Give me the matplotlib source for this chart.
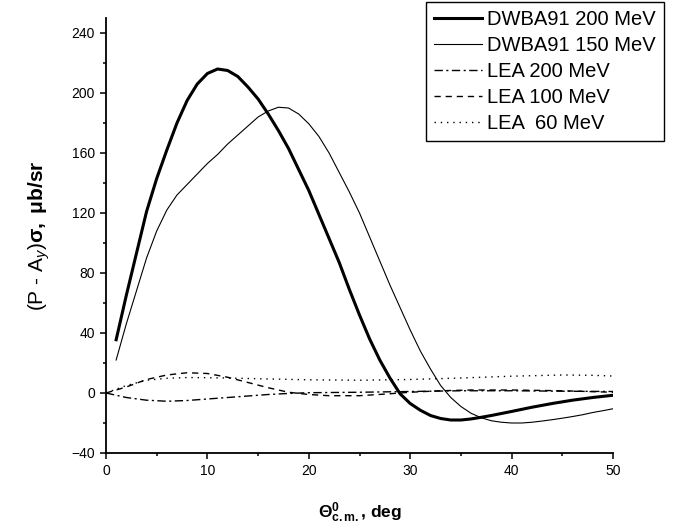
import matplotlib
matplotlib.use("Agg")
import matplotlib.pyplot as plt
from matplotlib.ticker import MultipleLocator

plt.rcParams["font.family"] = ["Liberation Sans", "DejaVu Sans"]
plt.rcParams["mathtext.fontset"] = "custom"
plt.rcParams["mathtext.rm"] = "Liberation Sans"
plt.rcParams["mathtext.it"] = "Liberation Sans:italic"
plt.rcParams["mathtext.bf"] = "Liberation Sans:bold"

# DWBA91 200 MeV (thick solid)
dw200_x = [1, 2, 3, 4, 5, 6, 7, 8, 9, 10, 11, 12, 13, 14, 15, 16, 17, 18, 19, 20,
           21, 22, 23, 24, 25, 26, 27, 28, 29, 30, 31, 32, 33, 34, 35, 36, 37, 38,
           40, 42, 44, 46, 48, 50]
dw200_y = [35.5, 65, 93, 121, 143, 162, 180, 195, 206, 213, 216, 215, 211, 204, 196,
           186, 175, 163, 149, 135, 119, 103, 87, 69, 52, 36, 22, 10, -0.5, -7,
           -11.5, -15, -17, -18, -18, -17.3, -16.2, -15, -12.3, -9.5, -7, -4.8, -3, -1.5]

# DWBA91 150 MeV (thin solid)
dw150_x = [1, 2, 3, 4, 5, 6, 7, 8, 9, 10, 11, 12, 13, 14, 15, 16, 17, 18, 19, 20,
           21, 22, 23, 24, 25, 26, 27, 28, 29, 30, 31, 32, 33, 34, 35, 36, 37, 38,
           39, 40, 41, 42, 43, 44, 45, 46, 47, 48, 49, 50]
dw150_y = [22, 46, 68, 90, 108, 122, 132, 139, 146, 153, 159, 166, 172, 178, 184,
           188, 190.5, 190, 186, 179.5, 171, 160, 147, 134, 120, 104, 88, 72, 57, 42,
           28, 16, 5, -3, -9, -13.5, -16.5, -18.5, -19.5, -20, -20, -19.5, -18.7,
           -17.8, -16.8, -15.7, -14.5, -13, -11.8, -10.5]

# LEA 200 MeV (dash-dot)
lea200_x = [0, 2, 4, 6, 8, 10, 12, 14, 16, 18, 20, 25, 30, 35, 40, 45, 50]
lea200_y = [0, -3, -4.8, -5.5, -5, -4, -3, -2, -1, -0.3, 0.2, 0.5, 1, 1.5, 1.5, 1.2, 1]

# LEA 100 MeV (dashed)
lea100_x = [0, 2, 4, 6, 8, 10, 12, 14, 16, 18, 20, 22, 25, 28, 30, 33, 36, 40, 45, 50]
lea100_y = [0, 4, 9, 12, 13.5, 13, 10.5, 7, 3.5, 0.5, -1, -1.8, -1.8, -0.5, 0.5, 1.5,
            2, 2, 1.5, 0.5]

# LEA 60 MeV (dotted)
lea60_x = [0, 2, 4, 6, 8, 10, 12, 15, 20, 25, 30, 35, 40, 45, 48, 50]
lea60_y = [0, 5, 8.5, 9.8, 10.3, 10.2, 10, 9.5, 8.8, 8.5, 9, 10, 11.2, 12, 11.8, 11.3]

fig = plt.figure(figsize=(6.78, 5.26), dpi=100)
ax = fig.add_axes([106 / 678, 1 - 453 / 526, 507 / 678, 435 / 526])

ax.plot(dw200_x, dw200_y, color="black", lw=2.2, label="DWBA91 200 MeV")
ax.plot(dw150_x, dw150_y, color="black", lw=0.8, label="DWBA91 150 MeV")
ax.plot(lea200_x, lea200_y, color="black", lw=1.0, dashes=(6, 2.5, 1.5, 2.5),
        label="LEA 200 MeV")
ax.plot(lea100_x, lea100_y, color="black", lw=1.0, dashes=(4.5, 3.5),
        label="LEA 100 MeV")
ax.plot(lea60_x, lea60_y, color="black", lw=1.0, dashes=(1, 3.5),
        label="LEA  60 MeV")

ax.set_xlim(0, 50)
ax.set_ylim(-40, 250)
ax.xaxis.set_major_locator(MultipleLocator(10))
ax.xaxis.set_minor_locator(MultipleLocator(5))
ax.yaxis.set_minor_locator(MultipleLocator(20))
ax.set_yticks([-40, 0, 40, 80, 120, 160, 200, 240])

for side in ("top", "right"):
    ax.spines[side].set_visible(False)
for side in ("left", "bottom"):
    ax.spines[side].set_linewidth(1.3)
ax.tick_params(which="major", direction="out", length=4.5, width=1.1, labelsize=10)
ax.tick_params(which="minor", direction="out", length=2.5, width=1.1)

ax.set_xlabel(r"$\mathbf{\Theta^{0}_{c.m.}}$, deg", fontsize=12.5, fontweight="bold",
              labelpad=16)
ax.set_ylabel(r"(P - A$_y$)$\mathbf{\sigma,\ \mu b/sr}$", fontsize=15,
              labelpad=14)

leg = ax.legend(loc="upper right", bbox_to_anchor=(664 / 678, 1 - 2 / 526),
                bbox_transform=fig.transFigure, borderaxespad=0, fontsize=14.5,
                handlelength=2.4, handletextpad=0.25, labelspacing=0.35,
                borderpad=0.4, fancybox=False, framealpha=1, edgecolor="black")
leg.get_frame().set_linewidth(1.0)

fig.savefig("out.png", dpi=100)
